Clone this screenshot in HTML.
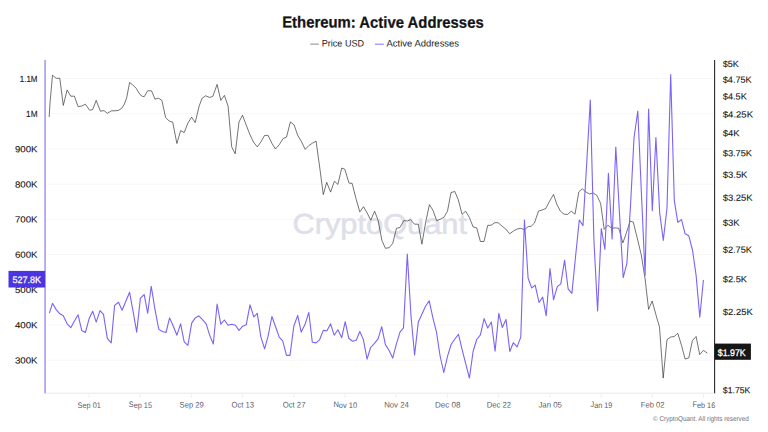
<!DOCTYPE html><html><head><meta charset="utf-8"><title>Ethereum: Active Addresses</title>
<style>html,body{margin:0;padding:0;background:#fff;}body{width:768px;height:432px;overflow:hidden;font-family:"Liberation Sans",sans-serif;}svg{display:block;font-family:"Liberation Sans",sans-serif;text-rendering:geometricPrecision;}</style></head><body>
<svg width="768" height="432" viewBox="0 0 768 432">
<rect width="768" height="432" fill="#ffffff"/>
<line x1="45.1" x2="714.6" y1="78.6" y2="78.6" stroke="#f7f7f9" stroke-width="1"/>
<line x1="45.1" x2="714.6" y1="113.8" y2="113.8" stroke="#f7f7f9" stroke-width="1"/>
<line x1="45.1" x2="714.6" y1="149.0" y2="149.0" stroke="#f7f7f9" stroke-width="1"/>
<line x1="45.1" x2="714.6" y1="184.2" y2="184.2" stroke="#f7f7f9" stroke-width="1"/>
<line x1="45.1" x2="714.6" y1="219.4" y2="219.4" stroke="#f7f7f9" stroke-width="1"/>
<line x1="45.1" x2="714.6" y1="254.6" y2="254.6" stroke="#f7f7f9" stroke-width="1"/>
<line x1="45.1" x2="714.6" y1="289.8" y2="289.8" stroke="#f7f7f9" stroke-width="1"/>
<line x1="45.1" x2="714.6" y1="325.0" y2="325.0" stroke="#f7f7f9" stroke-width="1"/>
<line x1="45.1" x2="714.6" y1="360.2" y2="360.2" stroke="#f7f7f9" stroke-width="1"/>
<text x="292.5" y="233.6" transform="rotate(0.03 292.5 233.6)" font-size="28.2" fill="#dfdfea" stroke="#dfdfea" stroke-width="0.6" textLength="174.5" lengthAdjust="spacingAndGlyphs">CryptoQuant</text>
<line x1="45.1" x2="714.6" y1="393.2" y2="393.2" stroke="#e8e8ed" stroke-width="1"/>
<line x1="88.9" x2="88.9" y1="393.2" y2="397.7" stroke="#efeff3" stroke-width="1"/>
<text x="77.60" y="407.5" transform="rotate(0.03 77.60 407.5)" font-size="8.1" fill="#5d5d68" textLength="23.2" lengthAdjust="spacingAndGlyphs">Sep 01</text>
<line x1="140.1" x2="140.1" y1="393.2" y2="397.7" stroke="#efeff3" stroke-width="1"/>
<text x="128.82" y="407.5" transform="rotate(0.03 128.82 407.5)" font-size="8.1" fill="#5d5d68" textLength="23.2" lengthAdjust="spacingAndGlyphs">Sep 15</text>
<line x1="191.3" x2="191.3" y1="393.2" y2="397.7" stroke="#efeff3" stroke-width="1"/>
<text x="179.59" y="407.5" transform="rotate(0.03 179.59 407.5)" font-size="8.1" fill="#5d5d68" textLength="24.1" lengthAdjust="spacingAndGlyphs">Sep 29</text>
<line x1="242.6" x2="242.6" y1="393.2" y2="397.7" stroke="#efeff3" stroke-width="1"/>
<text x="231.61" y="407.5" transform="rotate(0.03 231.61 407.5)" font-size="8.1" fill="#5d5d68" textLength="22.5" lengthAdjust="spacingAndGlyphs">Oct 13</text>
<line x1="293.8" x2="293.8" y1="393.2" y2="397.7" stroke="#efeff3" stroke-width="1"/>
<text x="282.73" y="407.5" transform="rotate(0.03 282.73 407.5)" font-size="8.1" fill="#5d5d68" textLength="22.7" lengthAdjust="spacingAndGlyphs">Oct 27</text>
<line x1="345.0" x2="345.0" y1="393.2" y2="397.7" stroke="#efeff3" stroke-width="1"/>
<text x="333.45" y="407.5" transform="rotate(0.03 333.45 407.5)" font-size="8.1" fill="#5d5d68" textLength="23.7" lengthAdjust="spacingAndGlyphs">Nov 10</text>
<line x1="396.2" x2="396.2" y1="393.2" y2="397.7" stroke="#efeff3" stroke-width="1"/>
<text x="384.17" y="407.5" transform="rotate(0.03 384.17 407.5)" font-size="8.1" fill="#5d5d68" textLength="24.7" lengthAdjust="spacingAndGlyphs">Nov 24</text>
<line x1="447.4" x2="447.4" y1="393.2" y2="397.7" stroke="#efeff3" stroke-width="1"/>
<text x="435.04" y="407.5" transform="rotate(0.03 435.04 407.5)" font-size="8.1" fill="#5d5d68" textLength="25.4" lengthAdjust="spacingAndGlyphs">Dec 08</text>
<line x1="498.7" x2="498.7" y1="393.2" y2="397.7" stroke="#efeff3" stroke-width="1"/>
<text x="486.76" y="407.5" transform="rotate(0.03 486.76 407.5)" font-size="8.1" fill="#5d5d68" textLength="24.4" lengthAdjust="spacingAndGlyphs">Dec 22</text>
<line x1="549.9" x2="549.9" y1="393.2" y2="397.7" stroke="#efeff3" stroke-width="1"/>
<text x="538.48" y="407.5" transform="rotate(0.03 538.48 407.5)" font-size="8.1" fill="#5d5d68" textLength="23.4" lengthAdjust="spacingAndGlyphs">Jan 05</text>
<line x1="601.1" x2="601.1" y1="393.2" y2="397.7" stroke="#efeff3" stroke-width="1"/>
<text x="590.50" y="407.5" transform="rotate(0.03 590.50 407.5)" font-size="8.1" fill="#5d5d68" textLength="21.8" lengthAdjust="spacingAndGlyphs">Jan 19</text>
<line x1="652.3" x2="652.3" y1="393.2" y2="397.7" stroke="#efeff3" stroke-width="1"/>
<text x="640.77" y="407.5" transform="rotate(0.03 640.77 407.5)" font-size="8.1" fill="#5d5d68" textLength="23.7" lengthAdjust="spacingAndGlyphs">Feb 02</text>
<line x1="703.5" x2="703.5" y1="393.2" y2="397.7" stroke="#efeff3" stroke-width="1"/>
<text x="692.49" y="407.5" transform="rotate(0.03 692.49 407.5)" font-size="8.1" fill="#5d5d68" textLength="22.7" lengthAdjust="spacingAndGlyphs">Feb 16</text>
<path d="M49.2,117.0 L50.0,103.0 L52.5,75.2 L56.2,78.3 L59.8,78.3 L63.3,105.4 L67.1,90.0 L70.8,96.2 L74.4,96.2 L78.1,106.7 L81.7,106.0 L85.4,104.2 L89.6,110.2 L92.7,109.6 L96.2,100.4 L100.4,111.2 L104.0,110.6 L107.3,113.3 L111.5,110.8 L115.0,110.8 L118.5,110.4 L121.9,108.1 L124.4,104.0 L126.7,97.7 L129.6,82.5 L132.7,84.8 L136.2,88.3 L140.0,94.6 L142.1,96.2 L144.2,96.7 L147.7,90.8 L151.5,90.8 L155.0,99.2 L158.3,98.1 L161.9,100.4 L165.6,117.5 L169.2,121.0 L172.7,122.1 L176.9,143.5 L180.6,130.6 L184.2,132.5 L187.9,123.1 L191.6,117.2 L195.2,122.6 L199.2,105.9 L202.1,98.3 L205.6,95.8 L209.8,97.5 L212.9,96.2 L217.1,84.4 L220.8,100.4 L224.4,95.4 L228.1,106.2 L231.7,146.9 L235.2,153.8 L239.0,121.9 L242.5,115.2 L246.2,125.0 L250.0,134.8 L253.5,142.1 L257.3,146.9 L260.8,142.1 L264.6,135.4 L268.1,135.4 L271.9,143.3 L275.4,149.0 L279.2,144.8 L283.1,138.5 L286.5,137.1 L290.4,121.9 L294.2,125.0 L297.7,135.4 L301.5,141.7 L305.2,149.4 L308.8,145.6 L312.4,143.2 L316.1,141.1 L319.8,168.1 L323.3,194.6 L326.7,182.3 L330.6,192.1 L334.4,181.2 L337.9,184.4 L341.7,168.1 L344.8,169.2 L349.0,183.1 L352.1,183.3 L356.2,199.4 L359.8,211.9 L363.5,206.7 L367.1,212.9 L370.8,220.2 L374.6,211.2 L378.1,220.2 L381.9,240.4 L385.4,248.3 L389.2,247.7 L392.7,243.5 L396.5,228.3 L400.0,227.5 L403.8,220.6 L407.5,221.0 L410.4,219.6 L414.6,224.2 L418.3,224.2 L421.9,244.2 L425.6,222.7 L429.4,204.6 L432.9,210.2 L436.7,220.6 L440.6,219.2 L444.0,217.1 L447.5,211.2 L451.0,192.5 L454.8,191.5 L458.3,199.8 L462.1,214.4 L465.6,211.2 L469.4,217.5 L473.1,226.9 L476.7,227.9 L480.4,241.5 L484.0,241.5 L487.7,225.4 L491.2,225.2 L494.8,222.7 L498.1,222.7 L502.1,226.2 L505.8,229.0 L509.6,233.8 L513.5,231.0 L517.2,229.0 L520.8,228.3 L524.4,229.8 L528.1,226.7 L531.2,226.2 L534.4,223.1 L538.5,211.0 L542.1,210.0 L545.8,208.5 L549.6,201.2 L553.5,194.4 L556.9,204.4 L560.4,211.2 L564.0,214.2 L567.7,214.4 L571.2,211.2 L575.0,214.2 L578.8,191.9 L582.3,188.8 L585.8,191.9 L589.6,194.0 L593.1,192.9 L596.9,195.4 L600.6,203.3 L604.2,229.4 L607.9,225.2 L611.5,228.3 L615.2,227.9 L618.8,228.3 L622.9,242.9 L626.5,232.5 L630.2,221.0 L633.3,222.1 L636.9,236.7 L641.3,255.0 L645.1,279.0 L648.6,309.4 L652.2,301.0 L655.9,314.6 L659.5,327.1 L663.2,378.1 L667.0,339.6 L670.5,337.1 L674.2,336.5 L677.8,333.3 L681.5,345.4 L685.1,359.0 L688.8,357.9 L692.4,340.6 L696.1,336.5 L699.7,354.6 L703.4,350.4 L707.4,353.1" fill="none" stroke="#2b2b2b" stroke-width="0.66" stroke-linejoin="round"/>
<path d="M49.4,313.1 L52.5,303.3 L56.2,309.6 L59.8,313.8 L63.3,315.8 L67.1,323.8 L70.8,327.7 L74.4,321.0 L78.1,314.8 L81.7,330.4 L85.4,332.5 L89.2,318.3 L92.7,311.2 L96.2,322.1 L100.0,310.6 L103.5,314.4 L107.3,338.3 L111.2,342.9 L114.6,305.4 L118.5,302.3 L122.1,310.2 L125.8,301.2 L129.6,292.3 L133.1,311.7 L136.7,332.1 L140.4,298.1 L144.2,294.6 L147.7,313.3 L151.2,286.2 L155.0,309.6 L158.8,329.4 L162.3,331.5 L166.0,332.5 L169.6,317.9 L173.3,326.2 L176.9,335.2 L180.6,323.8 L184.2,341.9 L187.9,345.4 L191.7,323.1 L195.2,317.9 L198.8,315.8 L202.5,319.6 L206.2,323.8 L209.8,335.6 L213.3,344.0 L217.1,304.0 L220.8,324.2 L224.4,320.0 L228.1,325.2 L231.7,324.2 L235.4,325.2 L239.0,330.4 L242.7,326.2 L246.2,324.8 L250.0,304.8 L253.8,316.9 L257.3,313.3 L260.8,336.7 L264.6,348.8 L268.1,336.2 L271.9,316.5 L275.4,326.2 L279.2,337.1 L282.7,340.8 L286.5,355.4 L290.0,355.4 L293.8,326.2 L297.7,315.4 L301.2,332.1 L305.0,324.6 L308.8,312.3 L312.3,342.3 L316.0,342.9 L319.6,339.8 L323.3,330.4 L326.9,330.8 L330.6,323.8 L334.2,335.2 L337.9,329.8 L341.7,337.7 L345.2,321.7 L348.8,338.3 L352.5,341.2 L356.2,340.2 L359.8,331.5 L363.3,339.4 L367.1,359.2 L370.6,347.5 L374.4,343.3 L378.1,338.8 L381.7,326.7 L385.4,344.6 L389.0,350.2 L392.7,358.1 L396.2,344.6 L400.0,332.1 L403.5,327.9 L407.3,254.1 L411.0,316.0 L414.6,355.0 L418.3,322.1 L421.9,314.2 L425.4,306.5 L429.2,300.8 L432.9,317.9 L436.5,332.1 L440.0,355.5 L443.8,372.5 L447.5,356.4 L451.1,344.5 L454.8,339.0 L458.5,334.3 L462.1,349.6 L465.7,363.6 L469.4,378.0 L473.1,351.5 L476.7,339.5 L480.4,334.8 L484.1,318.6 L487.7,328.0 L491.4,322.0 L495.1,351.1 L498.8,313.4 L502.3,327.5 L506.0,319.4 L509.8,351.5 L513.3,342.7 L517.1,346.9 L520.8,337.1 L524.4,220.0 L528.1,278.3 L531.7,287.9 L535.2,285.2 L539.0,302.5 L542.7,297.1 L546.2,315.8 L550.0,268.5 L553.5,299.8 L557.3,286.7 L560.8,283.8 L564.6,260.2 L568.1,288.8 L571.9,293.4 L575.6,256.0 L579.3,220.0 L583.0,225.6 L586.6,165.0 L590.3,100.0 L593.9,240.0 L597.6,311.0 L601.3,228.5 L604.9,249.5 L608.4,173.2 L612.1,239.0 L615.8,147.0 L619.5,214.0 L623.2,277.7 L626.9,263.3 L630.5,206.0 L634.0,138.0 L637.8,111.0 L641.5,195.0 L645.1,275.4 L648.6,109.0 L652.3,210.8 L655.9,137.5 L659.7,213.0 L663.3,240.4 L667.0,208.0 L670.7,74.6 L674.3,200.4 L677.8,222.3 L681.5,219.6 L685.1,233.8 L688.8,235.8 L692.5,250.0 L696.1,275.4 L699.8,317.2 L703.4,280.0" fill="none" stroke="#7b63f7" stroke-width="1.1" stroke-linejoin="round"/>
<line x1="45.1" x2="45.1" y1="60" y2="393.2" stroke="#a79af8" stroke-width="1.6"/>
<line x1="714.6" x2="714.6" y1="60" y2="393.2" stroke="#2a2a2a" stroke-width="1.1"/>
<text x="19.80" y="81.8" transform="rotate(0.03 19.80 81.8)" font-size="8.9" fill="#151515" stroke="#151515" stroke-width="0.1" textLength="17.7" lengthAdjust="spacingAndGlyphs">1.1M</text>
<text x="26.10" y="117.0" transform="rotate(0.03 26.10 117.0)" font-size="8.9" fill="#151515" stroke="#151515" stroke-width="0.1" textLength="11.4" lengthAdjust="spacingAndGlyphs">1M</text>
<text x="14.90" y="152.2" transform="rotate(0.03 14.90 152.2)" font-size="8.9" fill="#151515" stroke="#151515" stroke-width="0.1" textLength="22.6" lengthAdjust="spacingAndGlyphs">900K</text>
<text x="14.90" y="187.4" transform="rotate(0.03 14.90 187.4)" font-size="8.9" fill="#151515" stroke="#151515" stroke-width="0.1" textLength="22.6" lengthAdjust="spacingAndGlyphs">800K</text>
<text x="14.90" y="222.6" transform="rotate(0.03 14.90 222.6)" font-size="8.9" fill="#151515" stroke="#151515" stroke-width="0.1" textLength="22.6" lengthAdjust="spacingAndGlyphs">700K</text>
<text x="14.90" y="257.8" transform="rotate(0.03 14.90 257.8)" font-size="8.9" fill="#151515" stroke="#151515" stroke-width="0.1" textLength="22.6" lengthAdjust="spacingAndGlyphs">600K</text>
<text x="14.90" y="293.0" transform="rotate(0.03 14.90 293.0)" font-size="8.9" fill="#151515" stroke="#151515" stroke-width="0.1" textLength="22.6" lengthAdjust="spacingAndGlyphs">500K</text>
<text x="14.90" y="328.2" transform="rotate(0.03 14.90 328.2)" font-size="8.9" fill="#151515" stroke="#151515" stroke-width="0.1" textLength="22.6" lengthAdjust="spacingAndGlyphs">400K</text>
<text x="14.90" y="363.4" transform="rotate(0.03 14.90 363.4)" font-size="8.9" fill="#151515" stroke="#151515" stroke-width="0.1" textLength="22.6" lengthAdjust="spacingAndGlyphs">300K</text>
<text x="722.8" y="66.9" transform="rotate(0.03 722.8 66.9)" font-size="8.9" fill="#151515" stroke="#151515" stroke-width="0.1" textLength="16.1" lengthAdjust="spacingAndGlyphs">$5K</text>
<text x="722.8" y="82.8" transform="rotate(0.03 722.8 82.8)" font-size="8.9" fill="#151515" stroke="#151515" stroke-width="0.1" textLength="28.9" lengthAdjust="spacingAndGlyphs">$4.75K</text>
<text x="722.8" y="99.6" transform="rotate(0.03 722.8 99.6)" font-size="8.9" fill="#151515" stroke="#151515" stroke-width="0.1" textLength="24.0" lengthAdjust="spacingAndGlyphs">$4.5K</text>
<text x="722.8" y="117.4" transform="rotate(0.03 722.8 117.4)" font-size="8.9" fill="#151515" stroke="#151515" stroke-width="0.1" textLength="30.2" lengthAdjust="spacingAndGlyphs">$4.25K</text>
<text x="722.8" y="136.3" transform="rotate(0.03 722.8 136.3)" font-size="8.9" fill="#151515" stroke="#151515" stroke-width="0.1" textLength="16.7" lengthAdjust="spacingAndGlyphs">$4K</text>
<text x="722.8" y="156.3" transform="rotate(0.03 722.8 156.3)" font-size="8.9" fill="#151515" stroke="#151515" stroke-width="0.1" textLength="29.2" lengthAdjust="spacingAndGlyphs">$3.75K</text>
<text x="722.8" y="177.8" transform="rotate(0.03 722.8 177.8)" font-size="8.9" fill="#151515" stroke="#151515" stroke-width="0.1" textLength="24.6" lengthAdjust="spacingAndGlyphs">$3.5K</text>
<text x="722.8" y="200.8" transform="rotate(0.03 722.8 200.8)" font-size="8.9" fill="#151515" stroke="#151515" stroke-width="0.1" textLength="29.8" lengthAdjust="spacingAndGlyphs">$3.25K</text>
<text x="722.8" y="225.7" transform="rotate(0.03 722.8 225.7)" font-size="8.9" fill="#151515" stroke="#151515" stroke-width="0.1" textLength="16.7" lengthAdjust="spacingAndGlyphs">$3K</text>
<text x="722.8" y="252.7" transform="rotate(0.03 722.8 252.7)" font-size="8.9" fill="#151515" stroke="#151515" stroke-width="0.1" textLength="29.2" lengthAdjust="spacingAndGlyphs">$2.75K</text>
<text x="722.8" y="282.3" transform="rotate(0.03 722.8 282.3)" font-size="8.9" fill="#151515" stroke="#151515" stroke-width="0.1" textLength="24.2" lengthAdjust="spacingAndGlyphs">$2.5K</text>
<text x="722.8" y="315.1" transform="rotate(0.03 722.8 315.1)" font-size="8.9" fill="#151515" stroke="#151515" stroke-width="0.1" textLength="29.9" lengthAdjust="spacingAndGlyphs">$2.25K</text>
<text x="722.8" y="393.2" transform="rotate(0.03 722.8 393.2)" font-size="8.9" fill="#151515" stroke="#151515" stroke-width="0.1" textLength="27.6" lengthAdjust="spacingAndGlyphs">$1.75K</text>
<rect x="8.5" y="270.9" width="36.6" height="16.6" fill="#4b35e1"/>
<text x="12.5" y="282.9" transform="rotate(0.03 12.5 282.9)" font-size="9.4" fill="#ffffff" stroke="#ffffff" stroke-width="0.25" textLength="28.6" lengthAdjust="spacingAndGlyphs">527.8K</text>
<rect x="714.6" y="343.6" width="36.3" height="16.2" fill="#161616"/>
<text x="717.8" y="355.9" transform="rotate(0.03 717.8 355.9)" font-size="9.6" fill="#ffffff" stroke="#ffffff" stroke-width="0.3" textLength="27.9" lengthAdjust="spacingAndGlyphs">$1.97K</text>
<text x="282.2" y="27.6" transform="rotate(0.03 282.2 27.6)" font-size="15.9" font-weight="bold" fill="#141414" stroke="#141414" stroke-width="0.25" textLength="201.5" lengthAdjust="spacingAndGlyphs">Ethereum: Active Addresses</text>
<line x1="310.2" x2="318.8" y1="44.1" y2="44.1" stroke="#8a8a8a" stroke-width="1"/>
<text x="321.8" y="46.4" transform="rotate(0.03 321.8 46.4)" font-size="9.4" fill="#222" textLength="42.2" lengthAdjust="spacingAndGlyphs">Price USD</text>
<line x1="375" x2="383.8" y1="44.2" y2="44.2" stroke="#8f7cf8" stroke-width="1.1"/>
<text x="386.5" y="46.4" transform="rotate(0.03 386.5 46.4)" font-size="9.4" fill="#222" textLength="72.6" lengthAdjust="spacingAndGlyphs">Active Addresses</text>
<text x="653.1" y="421.2" transform="rotate(0.03 653.1 421.2)" font-size="6.9" fill="#6e6e76" textLength="95.6" lengthAdjust="spacingAndGlyphs">© CryptoQuant. All rights reserved</text>
</svg></body></html>
